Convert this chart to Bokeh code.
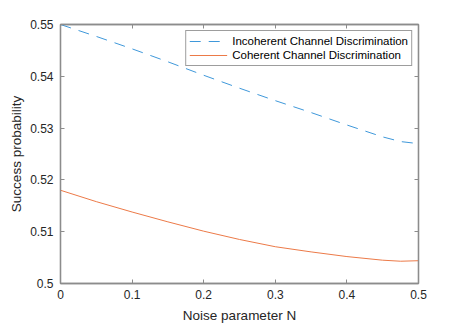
from bokeh.plotting import figure
from bokeh.models import (ColumnDataSource, Range1d, FixedTicker, LinearAxis,
                          CustomJSTickFormatter, Legend, LegendItem)
from bokeh.embed import file_html
from bokeh.resources import INLINE

# ---- data ----
noise_n = [0.0, 0.05, 0.1, 0.15, 0.2, 0.25, 0.3, 0.35, 0.4, 0.45, 0.475, 0.5]
incoherent = [0.5500, 0.5477, 0.5453, 0.5428, 0.5402, 0.5377, 0.5353, 0.5330,
              0.5306, 0.5283, 0.5274, 0.5270]
coherent = [0.5180, 0.5158, 0.5138, 0.5119, 0.5101, 0.5085, 0.5071, 0.5061,
            0.5052, 0.5045, 0.5043, 0.5044]
x_ticks = [0, 0.1, 0.2, 0.3, 0.4, 0.5]
y_ticks = [0.5, 0.51, 0.52, 0.53, 0.54, 0.55]
labels = ["Incoherent Channel Discrimination", "Coherent Channel Discrimination"]
colors = ["#3f98da", "#ec7a48"]

FONT = "Liberation Sans"
AXIS_COL = "#8c8c8c"
TEXT_COL = "#262626"

p = figure(width=462, height=325, output_backend="svg", toolbar_location=None,
           x_range=Range1d(0, 0.5), y_range=Range1d(0.5, 0.55),
           min_border_left=60, min_border_right=44, min_border_top=24,
           min_border_bottom=39,
           x_axis_label="Noise parameter N", y_axis_label="Success probability")
p.background_fill_color = "white"
p.border_fill_color = "white"
p.grid.visible = False
p.outline_line_color = AXIS_COL
p.outline_line_width = 1.3

fmt = CustomJSTickFormatter(code="return String(Math.round(tick*100)/100);")
blank = CustomJSTickFormatter(code="return '';")

for ax, ticks in ((p.xaxis[0], x_ticks), (p.yaxis[0], y_ticks)):
    ax.ticker = FixedTicker(ticks=ticks)
    ax.formatter = fmt
    ax.axis_line_color = AXIS_COL
    ax.axis_line_width = 1.3
    ax.major_tick_line_color = AXIS_COL
    ax.major_tick_in = 4
    ax.major_tick_out = 0
    ax.minor_tick_line_color = None
    ax.major_label_text_font = FONT
    ax.major_label_text_font_size = "12px"
    ax.major_label_text_color = TEXT_COL
    ax.axis_label_text_font = FONT
    ax.axis_label_text_font_size = "13.5px"
    ax.axis_label_text_font_style = "normal"
    ax.axis_label_text_color = TEXT_COL

p.xaxis[0].major_label_standoff = 6
p.xaxis[0].axis_label_standoff = 6
p.yaxis[0].major_label_standoff = 7
p.yaxis[0].axis_label_standoff = 3

for loc, ticks in (("above", x_ticks), ("right", y_ticks)):
    ax = LinearAxis(ticker=FixedTicker(ticks=ticks), formatter=blank)
    ax.axis_line_color = AXIS_COL
    ax.axis_line_width = 1.3
    ax.major_tick_line_color = AXIS_COL
    ax.major_tick_in = 4
    ax.major_tick_out = 0
    ax.minor_tick_line_color = None
    ax.major_label_text_font_size = "1px"
    ax.major_label_standoff = 0
    p.add_layout(ax, loc)

src = ColumnDataSource(dict(n=noise_n, inc=incoherent, coh=coherent))
r1 = p.line("n", "inc", source=src, line_color=colors[0], line_width=1,
            line_dash="11 8")
r2 = p.line("n", "coh", source=src, line_color=colors[1], line_width=1)

legend = Legend(items=[LegendItem(label=labels[0], renderers=[r1]),
                       LegendItem(label=labels[1], renderers=[r2])],
                location="top_right")
legend.margin = 6
legend.padding = 3
legend.spacing = 0
legend.glyph_width = 38
legend.glyph_height = 14
legend.label_height = 14
legend.label_standoff = 5
legend.label_text_font = FONT
legend.label_text_font_size = "11.5px"
legend.label_text_color = "black"
legend.border_line_color = "#3c3c3c"
legend.border_line_width = 1
legend.background_fill_color = "white"
legend.background_fill_alpha = 1
p.add_layout(legend)

open("out.html", "w").write(file_html(p, INLINE))
